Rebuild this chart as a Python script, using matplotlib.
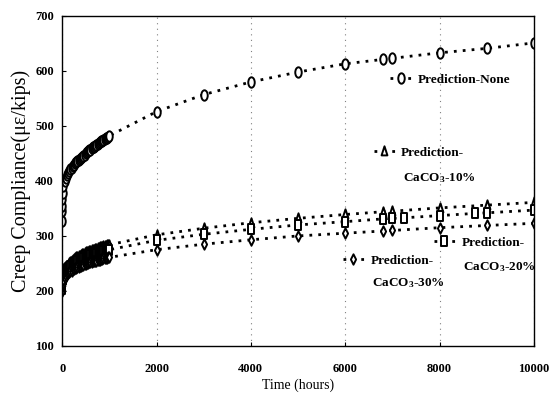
import numpy as np
import matplotlib.pyplot as plt
from matplotlib.legend import Legend
from matplotlib.path import Path

plt.rcParams['font.family'] = ['Liberation Serif', 'DejaVu Serif']
plt.rcParams['font.weight'] = 'bold'
plt.rcParams['mathtext.fontset'] = 'custom'
plt.rcParams['mathtext.rm'] = 'Liberation Serif:bold'
plt.rcParams['mathtext.it'] = 'Liberation Serif:bold'
plt.rcParams['mathtext.bf'] = 'Liberation Serif:bold'

# early time steps (hours), dense part of the predictions
t_early = [0, 1, 2, 5, 10, 25, 50, 75, 100, 125, 150, 175, 200, 225, 250, 275,
           300, 325, 350, 375, 400, 425, 450, 475, 500, 525, 550, 575, 600, 625,
           650, 675, 700, 725, 750, 775, 800, 825, 850, 875, 900, 925, 950, 975,
           1000]
t_late = [2000, 3000, 4000, 5000, 6000, 6800, 7000, 8000, 9000, 10000]
t_late_20 = [2000, 3000, 4000, 5000, 6000, 6800, 7000, 7250, 8000, 8750, 9000, 10000]

none_early = [328, 345, 355, 368, 378, 390, 399, 405, 410, 414, 418, 421, 424, 427,
              429, 432, 434, 436, 438, 440, 442, 444, 446, 448, 450, 452, 454, 456,
              457, 459, 461, 462, 464, 466, 467, 469, 470, 472, 473, 475, 476, 478,
              479, 480, 482]
none_late = [526, 557, 580, 598, 613, 621, 623, 633, 641, 651]

c10_early = [207, 217, 219, 223, 226, 232, 238, 242, 246, 248, 251, 253, 254, 256,
             258, 259, 261, 262, 263, 264, 266, 267, 268, 269, 270, 270, 271, 272,
             273, 274, 275, 275, 276, 277, 278, 278, 279, 280, 280, 281, 282, 282,
             283, 283, 284]
c10_late = [302, 314, 324, 332, 339, 344, 345, 351, 356, 361]

c20_early = [203, 212, 214, 218, 221, 227, 232, 236, 239, 242, 244, 246, 247, 249,
             251, 252, 253, 254, 256, 257, 258, 259, 260, 261, 261, 262, 263, 264,
             265, 265, 266, 267, 268, 268, 269, 270, 270, 271, 272, 272, 273, 273,
             274, 274, 275]
c20_late = [292, 303, 312, 320, 326, 331, 332, 333, 337, 341, 342, 347]

c30_early = [199, 207, 209, 212, 215, 220, 224, 228, 230, 232, 234, 236, 237, 239,
             240, 241, 242, 243, 244, 245, 246, 247, 248, 249, 249, 250, 251, 252,
             252, 253, 254, 254, 255, 255, 256, 256, 257, 258, 258, 259, 259, 260,
             260, 261, 261]
c30_late = [275, 285, 293, 300, 305, 309, 310, 315, 319, 323]

labels = ['Prediction-None', 'Prediction-', 'Prediction-', 'Prediction-']
sublabels = [None, 'CaCO$_3$-10%', 'CaCO$_3$-20%', 'CaCO$_3$-30%']


def squeeze(path, sx):
    # narrow markers, they come out taller than wide
    return Path(path.vertices * [sx, 1.0], path.codes)


circ = squeeze(Path.unit_circle(), 0.62)
tri = Path([(-0.45, -0.6), (0.45, -0.6), (0, 0.8), (-0.45, -0.6)],
           [Path.MOVETO, Path.LINETO, Path.LINETO, Path.CLOSEPOLY])
sq = Path([(-0.42, -0.7), (0.42, -0.7), (0.42, 0.7), (-0.42, 0.7), (-0.42, -0.7)],
          [Path.MOVETO, Path.LINETO, Path.LINETO, Path.LINETO, Path.CLOSEPOLY])
dia = Path([(0, -1), (0.5, 0), (0, 1), (-0.5, 0), (0, -1)],
           [Path.MOVETO, Path.LINETO, Path.LINETO, Path.LINETO, Path.CLOSEPOLY])

fig = plt.figure(figsize=(5.55, 3.99), dpi=100)
ax = fig.add_axes([0.112, 0.133, 0.850, 0.827])

style = dict(color='black', linestyle=(0, (1.0, 2.2)), linewidth=2.0,
             markerfacecolor='white', markeredgecolor='black',
             markeredgewidth=1.4, markersize=7.5)

series = [
    (t_early + t_late, none_early + none_late, circ),
    (t_early + t_late, c10_early + c10_late, tri),
    (t_early + t_late_20, c20_early + c20_late, sq),
    (t_early + t_late, c30_early + c30_late, dia),
]
handles = []
for tt, cc, mk in series:
    ln, = ax.plot(tt, cc, marker=mk, **style)
    handles.append(ln)

ax.set_xlim(0, 10000)
ax.set_ylim(100, 700)
ax.set_xticks(np.arange(0, 10001, 2000))
ax.set_yticks(np.arange(100, 701, 100))
ax.tick_params(direction='in', labelsize=9, length=3)
ax.tick_params(axis='x', pad=12)
ax.tick_params(axis='y', pad=6)
ax.xaxis.grid(True, linestyle=(0, (1, 4)), color='0.5', linewidth=0.8)
for s in ax.spines.values():
    s.set_linewidth(1.0)

ax.set_xlabel('Time (hours)', fontsize=10, labelpad=3)
ax.set_ylabel('Creep Compliance(με/kips)', fontsize=14.5, labelpad=3)

# one small legend per prediction, spread over the plot;
# (x, y) = start of the label text, y2 = second label line
spots = [(0.758, 0.806, None), (0.722, 0.585, 0.509),
         (0.850, 0.312, 0.239), (0.657, 0.258, 0.191)]
for h, lab, sub, (x, y, y2) in zip(handles, labels, sublabels, spots):
    leg = Legend(ax, [h], [lab], loc='center left', bbox_to_anchor=(x - 0.062, y),
                 frameon=False, fontsize=9.5, handlelength=1.6,
                 handletextpad=0.5, borderaxespad=0, borderpad=0,
                 numpoints=1)
    ax.add_artist(leg)
    if sub:
        ax.text(x, y2, sub, transform=ax.transAxes, fontsize=9.5, va='center')

fig.savefig('out.png', dpi=100)
